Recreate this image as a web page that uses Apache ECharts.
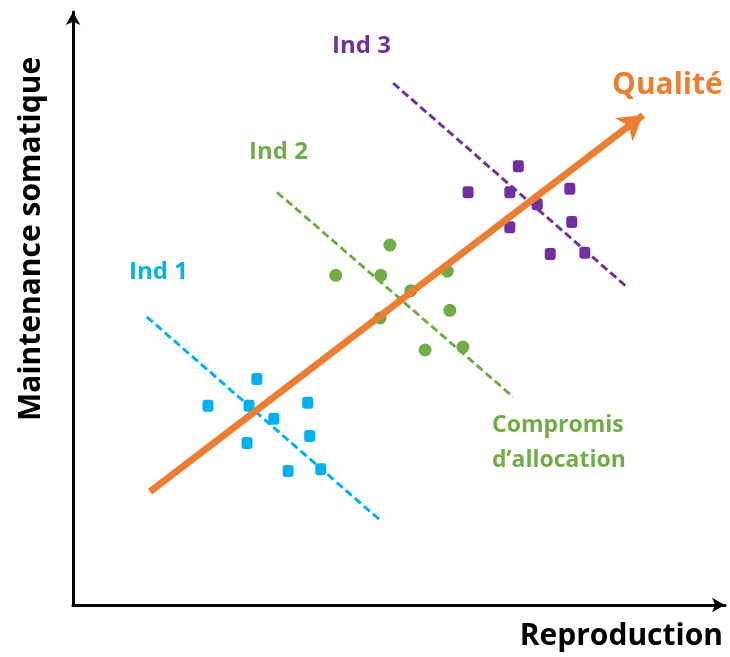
<!DOCTYPE html>
<html>
<head>
<meta charset="utf-8">
<script src="https://cdn.jsdelivr.net/npm/echarts@6/dist/echarts.min.js"></script>
<style>html,body{margin:0;padding:0;background:#fff;}#c{width:730px;height:657px;}</style>
</head>
<body>
<div id="c"></div>
<script>
// Individual measurements (Reproduction, Maintenance somatique), arbitrary units
const ind1X = [28.2, 20.7, 27.0, 36.0, 30.8, 36.3, 26.7, 33.0, 38.0];
const ind1Y = [38.1, 33.6, 33.6, 34.1, 31.4, 28.5, 27.3, 22.6, 22.9];
const ind2X = [48.6, 40.3, 47.2, 57.4, 51.8, 57.8, 47.1, 54.0, 59.8];
const ind2Y = [60.7, 55.6, 55.6, 56.3, 53.0, 49.7, 48.4, 43.0, 43.5];
const ind3X = [68.3, 60.6, 67.0, 76.2, 71.2, 76.5, 67.0, 73.2, 78.5];
const ind3Y = [74.0, 69.6, 69.6, 70.2, 67.6, 64.6, 63.7, 59.2, 59.4];
// Allocation trade-off lines (start, end)
const trade1 = [[11.3, 48.6], [47.2, 14.2]];
const trade2 = [[31.3, 69.6], [67.5, 35.1]];
const trade3 = [[49.1, 88.0], [85.1, 53.5]];
// Quality axis (start, end)
const quality = [[11.8, 19.1], [87.4, 82.6]];
const labels = {
  ind1: 'Ind 1', ind2: 'Ind 2', ind3: 'Ind 3',
  quality: 'Qualité', compromis: ['Compromis', 'd\u2019allocation'],
  xName: 'Reproduction', yName: 'Maintenance somatique'
};

const blue = '#00B0F0', green = '#70AD47', purple = '#7030A0', orange = '#ED7D31';
const zip = (xs, ys) => xs.map((x, i) => [x, ys[i]]);
const FONT = '"Open Sans"';

const chart = echarts.init(document.getElementById('c'), null, {renderer: 'canvas'});
const dashed = (data, color) => ({
  type: 'line', data: data, symbol: 'none', silent: true, z: 2,
  lineStyle: {color: color, width: 3, type: [8, 4]}
});
const scatter = (data, color, sym, size) => ({
  type: 'scatter', data: data, symbol: sym, symbolSize: size, z: 4,
  itemStyle: {color: color, opacity: 1}
});
const txt = (x, y, text, color, size, extra) => ({
  type: 'text', x: x, y: y,
  style: Object.assign({text: text, fill: color, font: 'bold ' + size + 'px ' + FONT,
    align: 'left', verticalAlign: 'middle'}, extra || {})
});

chart.setOption({
  animation: false,
  grid: {left: 73, top: 12, width: 652, height: 593},
  xAxis: {
    type: 'value', min: 0, max: 100,
    axisLine: {show: true, onZero: false, symbol: ['none', 'arrow'], symbolSize: [11, 13], symbolOffset: [0, 0],
      lineStyle: {color: '#000', width: 3}},
    axisTick: {show: false}, axisLabel: {show: false}, splitLine: {show: false}
  },
  yAxis: {
    type: 'value', min: 0, max: 100,
    axisLine: {show: true, onZero: false, symbol: ['none', 'arrow'], symbolSize: [11, 13], symbolOffset: [0, 0],
      lineStyle: {color: '#000', width: 3}},
    axisTick: {show: false}, axisLabel: {show: false}, splitLine: {show: false}
  },
  series: [
    dashed(trade1, blue),
    dashed(trade2, green),
    dashed(trade3, purple),
    {
      type: 'line', data: [], z: 3,
      markLine: {
        silent: true, symbol: ['none', 'arrow'], symbolSize: [22, 24],
        label: {show: false},
        lineStyle: {color: orange, width: 7, type: 'solid', cap: 'butt'},
        data: [[{coord: quality[0]}, {coord: quality[1]}]]
      }
    },
    scatter(zip(ind1X, ind1Y), blue, 'roundRect', [11, 12]),
    scatter(zip(ind2X, ind2Y), green, 'circle', 13),
    scatter(zip(ind3X, ind3Y), purple, 'roundRect', [11, 12])
  ],
  graphic: [
    txt(129, 272, labels.ind1, blue, 24),
    txt(249, 152, labels.ind2, green, 24),
    txt(332, 46, labels.ind3, purple, 24),
    txt(612, 85, labels.quality, orange, 30),
    txt(492, 443, labels.compromis.join('\n'), green, 23, {lineHeight: 35}),
    txt(723, 636, labels.xName, '#000', 30, {align: 'right'}),
    Object.assign(txt(31, 421, labels.yName, '#000', 30), {rotation: Math.PI / 2})
  ]
});
</script>
</body>
</html>
